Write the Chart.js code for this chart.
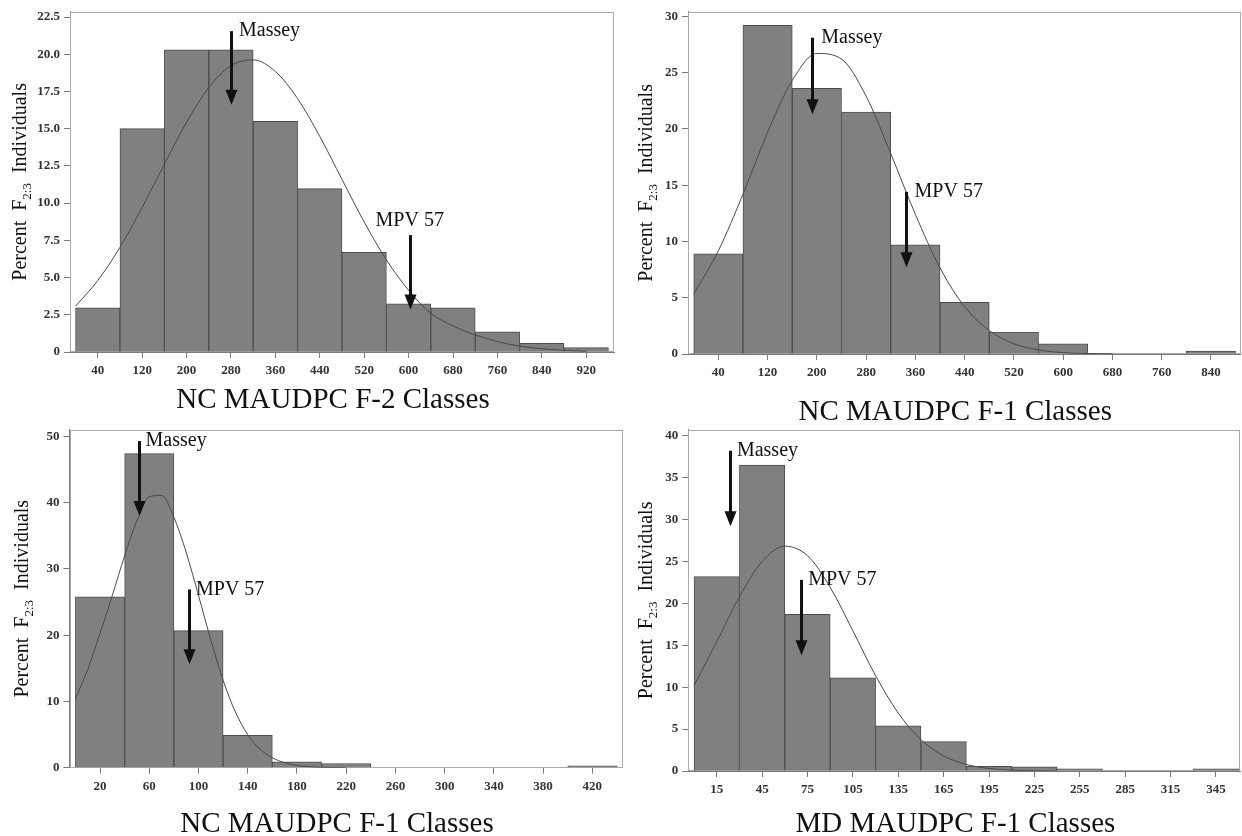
<!DOCTYPE html>
<html>
<head>
<meta charset="utf-8">
<title>MAUDPC class histograms</title>
<script src="https://cdn.jsdelivr.net/npm/chart.js@4.4.1/dist/chart.umd.min.js"></script>
<style>
  html, body { margin: 0; padding: 0; background: #fff; }
  body { position: relative; width: 1242px; height: 836px; overflow: hidden; }
  .panel { position: absolute; }
</style>
</head>
<body>
<div class="panel" style="left:0;top:0;width:621px;height:418px"><canvas id="ncF2"></canvas></div>
<div class="panel" style="left:621px;top:0;width:621px;height:424px"><canvas id="ncF1"></canvas></div>
<div class="panel" style="left:0;top:418px;width:624px;height:418px"><canvas id="ncF1b"></canvas></div>
<div class="panel" style="left:621px;top:418px;width:621px;height:418px"><canvas id="mdF1"></canvas></div>
<script>
// == values ==

// top left: NC MAUDPC F-2
const ncF2Bins = [40, 120, 200, 280, 360, 440, 520, 600, 680, 760, 840, 920];
const ncF2Pct = [2.97, 15.0, 20.3, 20.3, 15.5, 10.97, 6.7, 3.23, 2.97, 1.36, 0.59, 0.29];
const ncF2CurveX = [0, 40, 80, 120, 160, 200, 240, 280, 320, 360, 400, 440, 480, 520, 560, 600, 640, 680, 720, 760, 800, 840, 880, 920];
const ncF2CurveY = [3.08, 4.8, 7.03, 9.71, 12.61, 15.43, 17.76, 19.24, 19.62, 18.84, 17.02, 14.48, 11.59, 8.73, 6.19, 4.14, 2.6, 1.75, 1.15, 0.7, 0.4, 0.22, 0.11, 0.05];
const ncF2YTicks = [0, 2.5, 5, 7.5, 10, 12.5, 15, 17.5, 20, 22.5];
const ncF2YLabels = ['0', '2.5', '5.0', '7.5', '10.0', '12.5', '15.0', '17.5', '20.0', '22.5'];
const ncF2Massey = [280, 21.55, 16.6];   // class, arrow top, arrow tip
const ncF2Mpv = [602, 7.85, 2.86];

// top right: NC MAUDPC F-1
const ncF1Bins = [40, 120, 200, 280, 360, 440, 520, 600, 680, 760, 840];
const ncF1Pct = [8.9, 29.2, 23.6, 21.5, 9.7, 4.6, 1.95, 0.9, 0, 0, 0.25];
const ncF1CurveX = [0, 40, 80, 120, 160, 200, 240, 280, 320, 360, 400, 440, 480, 520, 560, 600, 640, 680];
const ncF1CurveY = [5.3, 9.17, 14.2, 19.7, 24.3, 26.7, 26.2, 22.9, 17.8, 12.4, 7.65, 4.2, 2.08, 0.91, 0.36, 0.12, 0.04, 0.01];
const ncF1YTicks = [0, 5, 10, 15, 20, 25, 30];
const ncF1YLabels = ['0', '5', '10', '15', '20', '25', '30'];
const ncF1Massey = [192.6, 28.1, 21.3];
const ncF1Mpv = [344, 14.4, 7.7];

// bottom left: NC MAUDPC F-1, finer classes
const ncF1bBins = [20, 60, 100, 140, 180, 220, 260, 300, 340, 380, 420];
const ncF1bPct = [25.8, 47.4, 20.7, 4.9, 0.88, 0.64, 0, 0, 0, 0, 0.3];
const ncF1bCurveX = [0, 10, 20, 30, 40, 50, 60, 70, 80, 90, 100, 110, 120, 130, 140, 150, 160, 170, 180, 190, 200, 210, 220];
const ncF1bCurveY = [10.4, 14.8, 20.3, 26.0, 32.0, 37.3, 40.9, 41.1, 37.8, 32.5, 26.0, 19.3, 13.2, 8.4, 5.0, 2.8, 1.5, 0.75, 0.35, 0.15, 0.06, 0.02, 0.01];
const ncF1bYTicks = [0, 10, 20, 30, 40, 50];
const ncF1bYLabels = ['0', '10', '20', '30', '40', '50'];
const ncF1bMassey = [51.3, 49.3, 38.0];
const ncF1bMpv = [92.3, 26.9, 15.6];

// bottom right: MD MAUDPC F-1
const mdF1Bins = [15, 45, 75, 105, 135, 165, 195, 225, 255, 285, 315, 345];
const mdF1Pct = [23.2, 36.5, 18.7, 11.1, 5.4, 3.5, 0.55, 0.5, 0.27, 0, 0, 0.27];
const mdF1CurveX = [0, 15, 30, 45, 60, 75, 90, 105, 120, 135, 150, 165, 180, 195, 210, 225, 240];
const mdF1CurveY = [10.2, 15.4, 20.77, 24.99, 26.82, 25.68, 21.9, 16.72, 11.37, 6.9, 3.73, 1.8, 0.78, 0.3, 0.1, 0.03, 0.01];
const mdF1YTicks = [0, 5, 10, 15, 20, 25, 30, 35, 40];
const mdF1YLabels = ['0', '5', '10', '15', '20', '25', '30', '35', '40'];
const mdF1Massey = [23.7, 38.2, 29.2];
const mdF1Mpv = [70.8, 22.8, 13.8];

const serif = '"Liberation Serif", "Times New Roman", serif';

function drawArrow(ctx, xs, ys, a) {
	const px = Math.round(xs.getPixelForValue(a[0])) + 0.5;
	const top = ys.getPixelForValue(a[1]);
	const tip = ys.getPixelForValue(a[2]);
	ctx.lineWidth = 3;
	ctx.beginPath();
	ctx.moveTo(px, top);
	ctx.lineTo(px, tip - 10);
	ctx.stroke();
	ctx.beginPath();
	ctx.moveTo(px - 6, tip - 15);
	ctx.lineTo(px + 6, tip - 15);
	ctx.lineTo(px, tip);
	ctx.closePath();
	ctx.fill();
}

// frame, titles and the two cultivar arrows
function decoFor(p) {
	return {
		id: 'deco',
		beforeDatasetsDraw(chart) {
			const a = chart.chartArea, ctx = chart.ctx;
			ctx.save();
			ctx.strokeStyle = '#ababab';
			ctx.lineWidth = 1;
			ctx.strokeRect(Math.round(a.left) + 0.5, Math.round(a.top) + 0.5, Math.round(a.width) - 1, Math.round(a.height) - 1);
			ctx.restore();
		},
		afterDraw(chart) {
			const a = chart.chartArea, ctx = chart.ctx;
			const xs = chart.scales.x, ys = chart.scales.y;
			ctx.save();
			ctx.fillStyle = '#111';
			ctx.strokeStyle = '#111';

			// x title
			ctx.font = '29px ' + serif;
			ctx.textAlign = 'center';
			ctx.textBaseline = 'alphabetic';
			ctx.fillText(p.title, (a.left + a.right) / 2 - 9, p.titleY);

			// y title with the F2:3 subscript
			ctx.save();
			ctx.translate(p.yTitleX, (a.top + a.bottom) / 2);
			ctx.rotate(-Math.PI / 2);
			ctx.textAlign = 'left';
			const big = '20px ' + serif, small = '13px ' + serif;
			ctx.font = big;
			const w1 = ctx.measureText('Percent  F').width;
			const w3 = ctx.measureText('  Individuals').width;
			ctx.font = small;
			const w2 = ctx.measureText('2:3').width;
			let x0 = -(w1 + w2 + w3) / 2;
			ctx.font = big;
			ctx.fillText('Percent  F', x0, 7);
			ctx.font = small;
			ctx.fillText('2:3', x0 + w1, 12);
			ctx.font = big;
			ctx.fillText('  Individuals', x0 + w1 + w2, 7);
			ctx.restore();

			// arrows and their labels
			drawArrow(ctx, xs, ys, p.massey);
			drawArrow(ctx, xs, ys, p.mpv);
			ctx.font = '20px ' + serif;
			ctx.textBaseline = 'middle';
			ctx.textAlign = 'left';
			ctx.fillText('Massey', xs.getPixelForValue(p.massey[0]) + p.labelDx, ys.getPixelForValue(p.massey[1]));
			if (p.mpvCentered) {
				ctx.textAlign = 'center';
				ctx.fillText('MPV 57', xs.getPixelForValue(p.mpv[0]), ys.getPixelForValue(p.mpv[1] + p.mpvLift));
			} else {
				ctx.fillText('MPV 57', xs.getPixelForValue(p.mpv[0]) + p.labelDx, ys.getPixelForValue(p.mpv[1]));
			}
			ctx.restore();
		}
	};
}

function makeHistogram(id, p) {
	const tickFont = {family: serif, size: 13, weight: 'bold'};
	new Chart(document.getElementById(id), {
		type: 'bar',
		data: {
			datasets: [
				{
					type: 'line',
					data: p.curveX.map(function(x, i) { return {x: x, y: p.curveY[i]}; }),
					borderColor: '#4a4a4a',
					borderWidth: 1,
					pointRadius: 0,
					cubicInterpolationMode: 'monotone',
					fill: false
				},
				{
					data: p.bins.map(function(x, i) { return {x: x, y: p.pct[i]}; }),
					backgroundColor: '#808080',
					borderColor: '#4d4d4d',
					borderWidth: 1,
					barPercentage: 1,
					categoryPercentage: 1
				}
			]
		},
		options: {
			responsive: true,
			maintainAspectRatio: false,
			animation: false,
			layout: {padding: {top: p.padTop, right: p.padRight, bottom: 0, left: 0}},
			plugins: {legend: {display: false}, tooltip: {enabled: false}},
			scales: {
				x: {
					type: 'linear',
					min: p.xMin,
					max: p.xMax,
					offset: false,
					afterBuildTicks: function(s) { s.ticks = p.bins.map(function(v) { return {value: v}; }); },
					afterFit: function(s) { s.height = p.xAxisH; },
					ticks: {
						autoSkip: false, maxRotation: 0, padding: 5,
						font: tickFont, color: '#333',
						callback: function(v, i) { return String(p.bins[i]); }
					},
					grid: {drawOnChartArea: false, offset: false, tickLength: 6, color: '#7a7a7a'},
					border: {color: '#7a7a7a'}
				},
				y: {
					min: 0,
					max: p.yMax,
					afterBuildTicks: function(s) { s.ticks = p.yTicks.map(function(v) { return {value: v}; }); },
					afterFit: function(s) { s.width = p.yAxisW; },
					ticks: {
						padding: 4, font: tickFont, color: '#333',
						callback: function(v, i) { return p.yLabels[i]; }
					},
					grid: {drawOnChartArea: false, tickLength: 6, color: '#7a7a7a'},
					border: {color: '#7a7a7a'}
				}
			}
		},
		plugins: [decoFor(p)]
	});
}

makeHistogram('ncF2', {
	bins: ncF2Bins, pct: ncF2Pct, curveX: ncF2CurveX, curveY: ncF2CurveY,
	yTicks: ncF2YTicks, yLabels: ncF2YLabels, massey: ncF2Massey, mpv: ncF2Mpv,
	xMin: -10, xMax: 970, yMax: 22.85,
	yAxisW: 70, xAxisH: 66, padTop: 5, padRight: 7,
	title: 'NC MAUDPC F-2 Classes', titleY: 408, yTitleX: 19,
	labelDx: 8, mpvCentered: true, mpvLift: 0.95
});

makeHistogram('ncF1', {
	bins: ncF1Bins, pct: ncF1Pct, curveX: ncF1CurveX, curveY: ncF1CurveY,
	yTicks: ncF1YTicks, yLabels: ncF1YLabels, massey: ncF1Massey, mpv: ncF1Mpv,
	xMin: -9.3, xMax: 888, yMax: 30.4,
	yAxisW: 67, xAxisH: 70, padTop: 9, padRight: 1.5,
	title: 'NC MAUDPC F-1 Classes', titleY: 420, yTitleX: 24,
	labelDx: 9
});

makeHistogram('ncF1b', {
	bins: ncF1bBins, pct: ncF1bPct, curveX: ncF1bCurveX, curveY: ncF1bCurveY,
	yTicks: ncF1bYTicks, yLabels: ncF1bYLabels, massey: ncF1bMassey, mpv: ncF1bMpv,
	xMin: -4.8, xMax: 444.5, yMax: 51.0,
	yAxisW: 69.5, xAxisH: 68.3, padTop: 3.5, padRight: 1.5,
	title: 'NC MAUDPC F-1 Classes', titleY: 414, yTitleX: 21,
	labelDx: 7
});

makeHistogram('mdF1', {
	bins: mdF1Bins, pct: mdF1Pct, curveX: mdF1CurveX, curveY: mdF1CurveY,
	yTicks: mdF1YTicks, yLabels: mdF1YLabels, massey: mdF1Massey, mpv: mdF1Mpv,
	xMin: -3.8, xMax: 361.2, yMax: 40.7,
	yAxisW: 67.3, xAxisH: 65, padTop: 8, padRight: 1.5,
	title: 'MD MAUDPC F-1 Classes', titleY: 414, yTitleX: 24,
	labelDx: 7
});
</script>
</body>
</html>
